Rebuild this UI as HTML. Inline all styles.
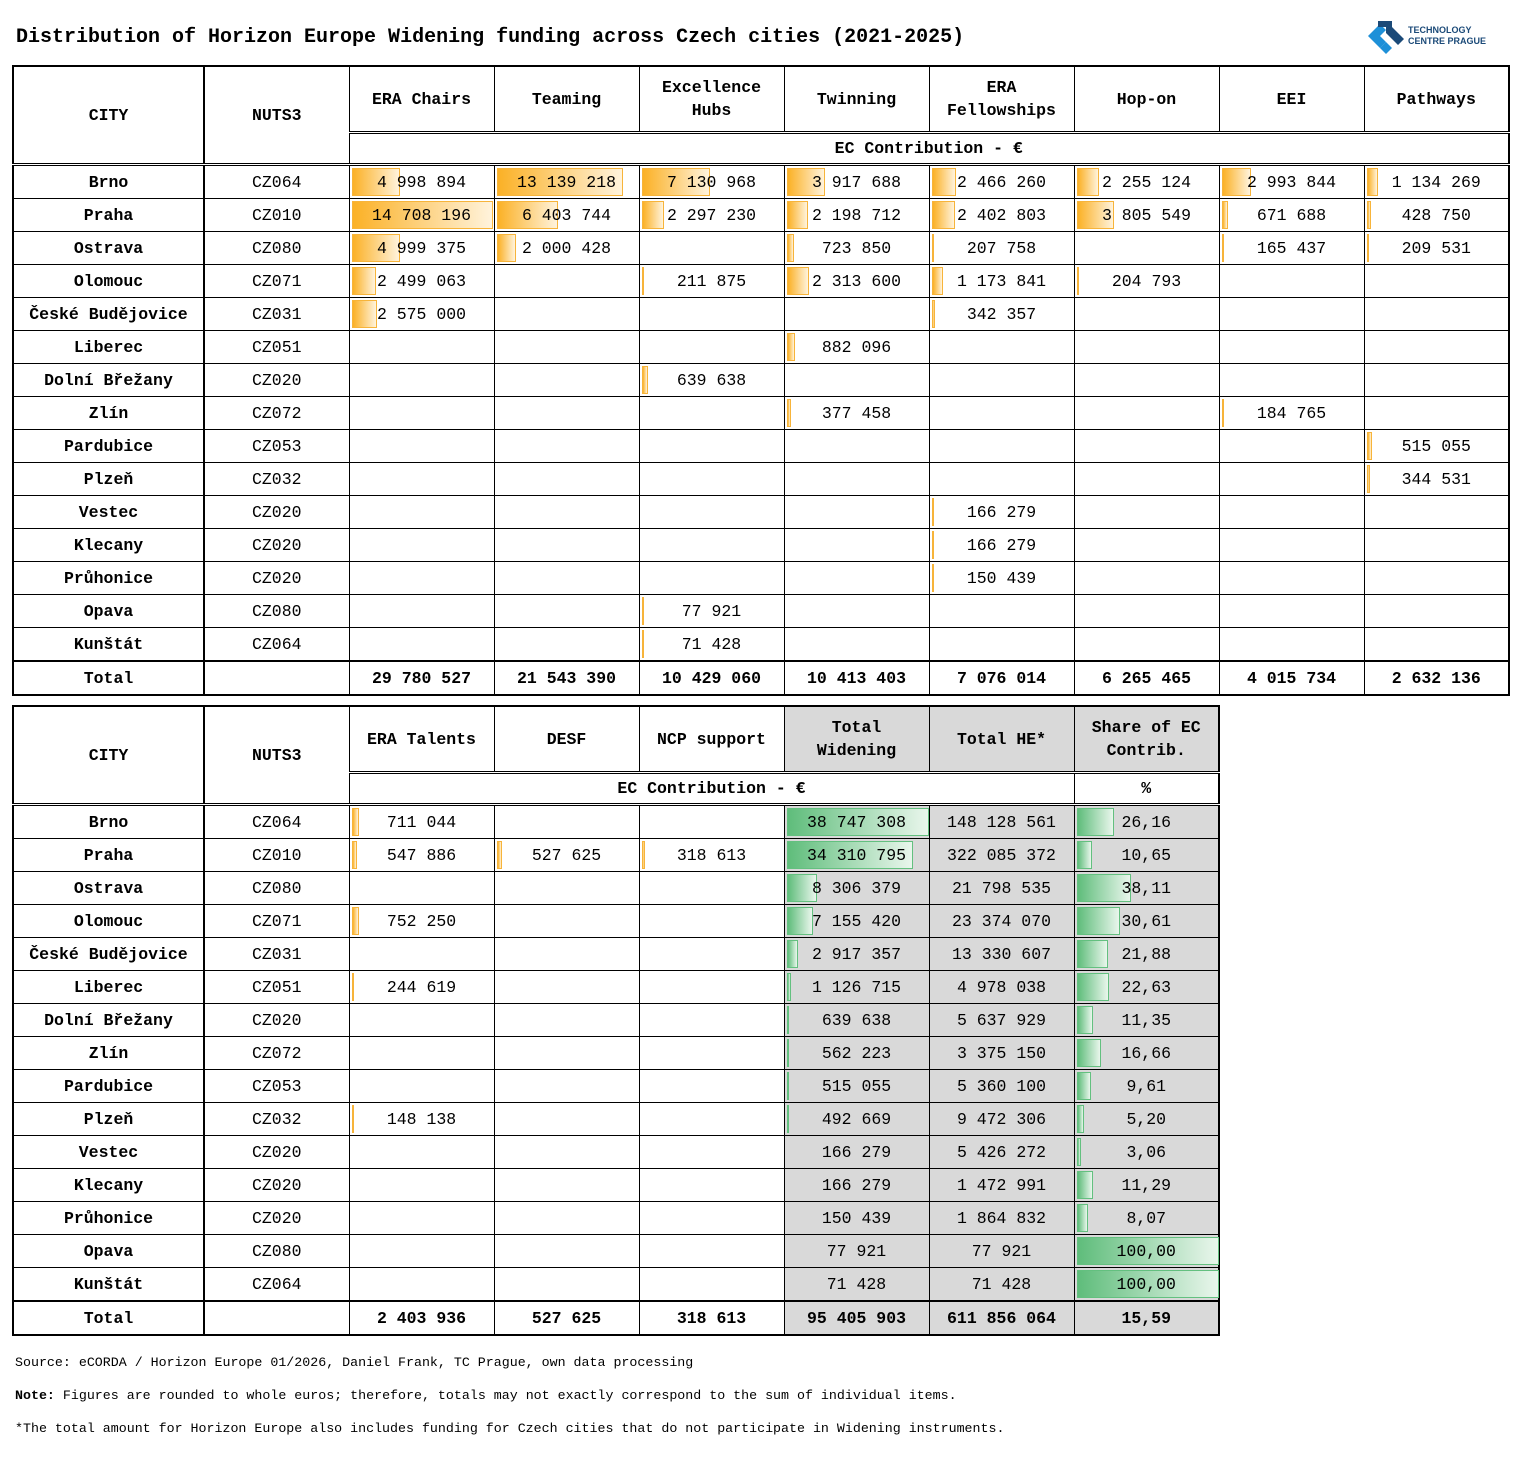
<!DOCTYPE html>
<html><head><meta charset="utf-8"><style>
body{margin:0;width:1521px;height:1459px;background:#fff;position:relative;font-family:"Liberation Mono",monospace;color:#000;overflow:hidden}
.title{position:absolute;left:16px;top:26px;font-size:20px;font-weight:bold;white-space:nowrap}
table{position:absolute;left:12px;border-collapse:collapse;table-layout:fixed;border:2px solid #000}
td{border:1px solid #000;padding:0;text-align:center;position:relative;font-size:16.5px;height:32px;white-space:nowrap;line-height:19px}
tr.h1 td{height:64px;font-weight:bold;line-height:23px}
tr.h2 td{height:29px;font-weight:bold;background:#fff}
tr.h1 td.rs{border-bottom:3px double #000;border-right:2px solid #000}
tr.h1 td{border-bottom:3px double #000}
tr.h2 td{border-bottom:3px double #000}
td.c1{font-weight:bold;border-right:2px solid #000}
tr.tot td{font-weight:bold;border-top:2px solid #000}
td.g{background:#d9d9d9}
td span{position:relative;z-index:1}
i{position:absolute;left:2px;top:2px;bottom:2px;background:linear-gradient(90deg,#fbb126,#fff3dc);border:1px solid #f7b43a;box-sizing:border-box}
i.gr{background:linear-gradient(90deg,#5fbd7b,#e9f6ec);border:1px solid #63c07f}
.foot{position:absolute;left:15px;font-size:13.3px;white-space:nowrap}
</style></head><body>
<div class="title">Distribution of Horizon Europe Widening funding across Czech cities (2021-2025)</div>
<svg style="position:absolute;left:1366px;top:17px" width="42" height="38" viewBox="0 0 42 38"><polygon points="2,19 14,7 20,13 14,19 20,25 14,31" fill="#1e90d8"/><polygon points="14,31 20,25 26,31 20,37" fill="#1e90d8"/><polygon points="12,4 26,4 26,10 38,22 32,28 20,16 20,10 12,10" fill="#1b4a78"/></svg>
<div style="position:absolute;left:1408px;top:25px;font-family:'Liberation Sans',sans-serif;font-weight:bold;font-size:9px;line-height:11px;color:#1b4a78">TECHNOLOGY<br>CENTRE PRAGUE</div>

<table style="top:65px;width:1497px">
<colgroup><col style="width:191px"><col style="width:145px"><col style="width:145px"><col style="width:145px"><col style="width:145px"><col style="width:145px"><col style="width:145px"><col style="width:145px"><col style="width:145px"><col style="width:145px"></colgroup>
<tr class="h1"><td rowspan="2" class="rs">CITY</td><td rowspan="2" class="rs" style="border-right:1px solid #000">NUTS3</td><td>ERA Chairs</td><td>Teaming</td><td>Excellence<br>Hubs</td><td>Twinning</td><td>ERA<br>Fellowships</td><td>Hop-on</td><td>EEI</td><td>Pathways</td></tr>
<tr class="h2"><td colspan="8">EC Contribution - €</td></tr>
<tr><td class="c1">Brno</td><td>CZ064</td><td><i style="width:48px"></i><span>4 998 894</span></td><td><i style="width:126px"></i><span>13 139 218</span></td><td><i style="width:68px"></i><span>7 130 968</span></td><td><i style="width:38px"></i><span>3 917 688</span></td><td><i style="width:24px"></i><span>2 466 260</span></td><td><i style="width:22px"></i><span>2 255 124</span></td><td><i style="width:29px"></i><span>2 993 844</span></td><td><i style="width:11px"></i><span>1 134 269</span></td></tr>
<tr><td class="c1">Praha</td><td>CZ010</td><td><i style="width:141px"></i><span>14 708 196</span></td><td><i style="width:61px"></i><span>6 403 744</span></td><td><i style="width:22px"></i><span>2 297 230</span></td><td><i style="width:21px"></i><span>2 198 712</span></td><td><i style="width:23px"></i><span>2 402 803</span></td><td><i style="width:37px"></i><span>3 805 549</span></td><td><i style="width:6px"></i><span>671 688</span></td><td><i style="width:4px"></i><span>428 750</span></td></tr>
<tr><td class="c1">Ostrava</td><td>CZ080</td><td><i style="width:48px"></i><span>4 999 375</span></td><td><i style="width:19px"></i><span>2 000 428</span></td><td></td><td><i style="width:7px"></i><span>723 850</span></td><td><i style="width:2px"></i><span>207 758</span></td><td></td><td><i style="width:2px"></i><span>165 437</span></td><td><i style="width:2px"></i><span>209 531</span></td></tr>
<tr><td class="c1">Olomouc</td><td>CZ071</td><td><i style="width:24px"></i><span>2 499 063</span></td><td></td><td><i style="width:2px"></i><span>211 875</span></td><td><i style="width:22px"></i><span>2 313 600</span></td><td><i style="width:11px"></i><span>1 173 841</span></td><td><i style="width:2px"></i><span>204 793</span></td><td></td><td></td></tr>
<tr><td class="c1">České Budějovice</td><td>CZ031</td><td><i style="width:25px"></i><span>2 575 000</span></td><td></td><td></td><td></td><td><i style="width:3px"></i><span>342 357</span></td><td></td><td></td><td></td></tr>
<tr><td class="c1">Liberec</td><td>CZ051</td><td></td><td></td><td></td><td><i style="width:8px"></i><span>882 096</span></td><td></td><td></td><td></td><td></td></tr>
<tr><td class="c1">Dolní Břežany</td><td>CZ020</td><td></td><td></td><td><i style="width:6px"></i><span>639 638</span></td><td></td><td></td><td></td><td></td><td></td></tr>
<tr><td class="c1">Zlín</td><td>CZ072</td><td></td><td></td><td></td><td><i style="width:4px"></i><span>377 458</span></td><td></td><td></td><td><i style="width:2px"></i><span>184 765</span></td><td></td></tr>
<tr><td class="c1">Pardubice</td><td>CZ053</td><td></td><td></td><td></td><td></td><td></td><td></td><td></td><td><i style="width:5px"></i><span>515 055</span></td></tr>
<tr><td class="c1">Plzeň</td><td>CZ032</td><td></td><td></td><td></td><td></td><td></td><td></td><td></td><td><i style="width:3px"></i><span>344 531</span></td></tr>
<tr><td class="c1">Vestec</td><td>CZ020</td><td></td><td></td><td></td><td></td><td><i style="width:2px"></i><span>166 279</span></td><td></td><td></td><td></td></tr>
<tr><td class="c1">Klecany</td><td>CZ020</td><td></td><td></td><td></td><td></td><td><i style="width:2px"></i><span>166 279</span></td><td></td><td></td><td></td></tr>
<tr><td class="c1">Průhonice</td><td>CZ020</td><td></td><td></td><td></td><td></td><td><i style="width:2px"></i><span>150 439</span></td><td></td><td></td><td></td></tr>
<tr><td class="c1">Opava</td><td>CZ080</td><td></td><td></td><td><i style="width:1px"></i><span>77 921</span></td><td></td><td></td><td></td><td></td><td></td></tr>
<tr><td class="c1">Kunštát</td><td>CZ064</td><td></td><td></td><td><i style="width:1px"></i><span>71 428</span></td><td></td><td></td><td></td><td></td><td></td></tr>
<tr class="tot"><td class="c1">Total</td><td></td><td>29 780 527</td><td>21 543 390</td><td>10 429 060</td><td>10 413 403</td><td>7 076 014</td><td>6 265 465</td><td>4 015 734</td><td>2 632 136</td></tr>
</table>

<table style="top:705px;width:1207px">
<colgroup><col style="width:191px"><col style="width:145px"><col style="width:145px"><col style="width:145px"><col style="width:145px"><col style="width:145px"><col style="width:145px"><col style="width:145px"></colgroup>
<tr class="h1"><td rowspan="2" class="rs">CITY</td><td rowspan="2" class="rs" style="border-right:1px solid #000">NUTS3</td><td>ERA Talents</td><td>DESF</td><td>NCP support</td><td class="g">Total<br>Widening</td><td class="g">Total HE*</td><td class="g">Share of EC<br>Contrib.</td></tr>
<tr class="h2"><td colspan="5">EC Contribution - €</td><td>%</td></tr>
<tr><td class="c1">Brno</td><td>CZ064</td><td><i style="width:7px"></i><span>711 044</span></td><td></td><td></td><td class="g"><i class="gr" style="width:142px"></i><span>38 747 308</span></td><td class="g">148 128 561</td><td class="g"><i class="gr" style="width:37px"></i><span>26,16</span></td></tr>
<tr><td class="c1">Praha</td><td>CZ010</td><td><i style="width:5px"></i><span>547 886</span></td><td><i style="width:5px"></i><span>527 625</span></td><td><i style="width:3px"></i><span>318 613</span></td><td class="g"><i class="gr" style="width:126px"></i><span>34 310 795</span></td><td class="g">322 085 372</td><td class="g"><i class="gr" style="width:15px"></i><span>10,65</span></td></tr>
<tr><td class="c1">Ostrava</td><td>CZ080</td><td></td><td></td><td></td><td class="g"><i class="gr" style="width:30px"></i><span>8 306 379</span></td><td class="g">21 798 535</td><td class="g"><i class="gr" style="width:54px"></i><span>38,11</span></td></tr>
<tr><td class="c1">Olomouc</td><td>CZ071</td><td><i style="width:7px"></i><span>752 250</span></td><td></td><td></td><td class="g"><i class="gr" style="width:26px"></i><span>7 155 420</span></td><td class="g">23 374 070</td><td class="g"><i class="gr" style="width:43px"></i><span>30,61</span></td></tr>
<tr><td class="c1">České Budějovice</td><td>CZ031</td><td></td><td></td><td></td><td class="g"><i class="gr" style="width:11px"></i><span>2 917 357</span></td><td class="g">13 330 607</td><td class="g"><i class="gr" style="width:31px"></i><span>21,88</span></td></tr>
<tr><td class="c1">Liberec</td><td>CZ051</td><td><i style="width:2px"></i><span>244 619</span></td><td></td><td></td><td class="g"><i class="gr" style="width:4px"></i><span>1 126 715</span></td><td class="g">4 978 038</td><td class="g"><i class="gr" style="width:32px"></i><span>22,63</span></td></tr>
<tr><td class="c1">Dolní Břežany</td><td>CZ020</td><td></td><td></td><td></td><td class="g"><i class="gr" style="width:2px"></i><span>639 638</span></td><td class="g">5 637 929</td><td class="g"><i class="gr" style="width:16px"></i><span>11,35</span></td></tr>
<tr><td class="c1">Zlín</td><td>CZ072</td><td></td><td></td><td></td><td class="g"><i class="gr" style="width:2px"></i><span>562 223</span></td><td class="g">3 375 150</td><td class="g"><i class="gr" style="width:24px"></i><span>16,66</span></td></tr>
<tr><td class="c1">Pardubice</td><td>CZ053</td><td></td><td></td><td></td><td class="g"><i class="gr" style="width:2px"></i><span>515 055</span></td><td class="g">5 360 100</td><td class="g"><i class="gr" style="width:14px"></i><span>9,61</span></td></tr>
<tr><td class="c1">Plzeň</td><td>CZ032</td><td><i style="width:1px"></i><span>148 138</span></td><td></td><td></td><td class="g"><i class="gr" style="width:2px"></i><span>492 669</span></td><td class="g">9 472 306</td><td class="g"><i class="gr" style="width:7px"></i><span>5,20</span></td></tr>
<tr><td class="c1">Vestec</td><td>CZ020</td><td></td><td></td><td></td><td class="g"><span>166 279</span></td><td class="g">5 426 272</td><td class="g"><i class="gr" style="width:4px"></i><span>3,06</span></td></tr>
<tr><td class="c1">Klecany</td><td>CZ020</td><td></td><td></td><td></td><td class="g"><span>166 279</span></td><td class="g">1 472 991</td><td class="g"><i class="gr" style="width:16px"></i><span>11,29</span></td></tr>
<tr><td class="c1">Průhonice</td><td>CZ020</td><td></td><td></td><td></td><td class="g"><span>150 439</span></td><td class="g">1 864 832</td><td class="g"><i class="gr" style="width:11px"></i><span>8,07</span></td></tr>
<tr><td class="c1">Opava</td><td>CZ080</td><td></td><td></td><td></td><td class="g"><span>77 921</span></td><td class="g">77 921</td><td class="g"><i class="gr" style="width:142px"></i><span>100,00</span></td></tr>
<tr><td class="c1">Kunštát</td><td>CZ064</td><td></td><td></td><td></td><td class="g"><span>71 428</span></td><td class="g">71 428</td><td class="g"><i class="gr" style="width:142px"></i><span>100,00</span></td></tr>
<tr class="tot"><td class="c1">Total</td><td></td><td>2 403 936</td><td>527 625</td><td>318 613</td><td class="g">95 405 903</td><td class="g">611 856 064</td><td class="g">15,59</td></tr>
</table>

<div class="foot" style="top:1355px">Source: eCORDA / Horizon Europe 01/2026, Daniel Frank, TC Prague, own data processing</div>
<div class="foot" style="top:1388px"><b>Note:</b> Figures are rounded to whole euros; therefore, totals may not exactly correspond to the sum of individual items.</div>
<div class="foot" style="top:1421px">*The total amount for Horizon Europe also includes funding for Czech cities that do not participate in Widening instruments.</div>
</body></html>
